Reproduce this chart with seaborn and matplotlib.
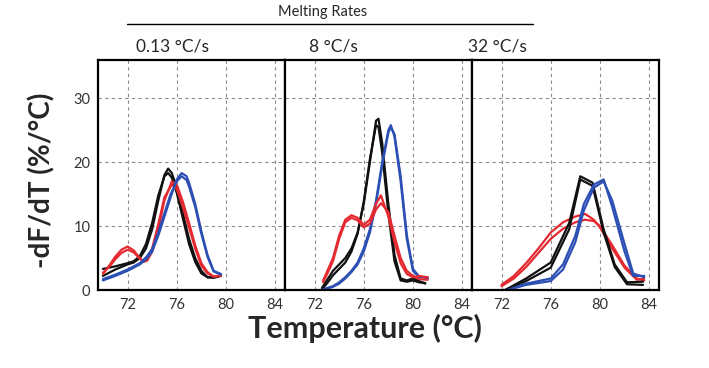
import numpy as np
import pandas as pd
import matplotlib
matplotlib.use("Agg")
import matplotlib.pyplot as plt
from matplotlib.lines import Line2D
import seaborn as sns

sns.set_style("white")
plt.rcParams['font.family'] = ['Lato', 'DejaVu Sans']

rates = ["0.13 °C/s", "8 °C/s", "32 °C/s"]
xticks = [72, 76, 80, 84]
yticks = [0, 10, 20, 30]

# panel 1 : 0.13 C/s
p1_black_x = [70.0, 71.0, 72.0, 72.5, 73.0, 73.5, 74.0, 74.5, 75.0, 75.3, 75.6, 76.0, 76.5, 77.0, 77.5, 78.0, 78.5, 79.0, 79.6]
p1_black_a = [2.2, 3.2, 4.0, 4.3, 5.0, 6.5, 9.5, 14.0, 18.0, 19.0, 18.3, 16.0, 12.0, 8.0, 5.0, 3.0, 2.0, 1.9, 2.2]
p1_black_b = [3.3, 3.7, 4.2, 4.5, 5.3, 7.2, 10.5, 14.8, 17.8, 18.3, 17.6, 15.2, 11.2, 7.2, 4.4, 2.6, 2.0, 2.0, 2.3]
p1_red_x = [70.0, 70.5, 71.0, 71.5, 72.0, 72.5, 73.0, 73.3, 73.6, 74.0, 74.5, 75.0, 75.6, 76.0, 76.5, 77.0, 77.5, 78.0, 78.5, 79.0, 79.6]
p1_red_a = [2.5, 3.8, 5.2, 6.3, 6.8, 6.2, 5.0, 4.4, 4.6, 6.0, 9.5, 14.0, 17.0, 16.5, 13.8, 10.5, 7.0, 4.2, 2.8, 2.1, 2.2]
p1_red_b = [2.7, 3.6, 4.8, 5.8, 6.3, 5.9, 4.9, 4.5, 4.8, 6.5, 10.3, 14.5, 16.5, 15.8, 13.0, 9.8, 6.5, 3.8, 2.6, 2.1, 2.3]
p1_blue_x = [70.0, 71.0, 72.0, 73.0, 73.5, 74.0, 74.5, 75.0, 75.5, 76.0, 76.4, 76.8, 77.0, 77.5, 78.0, 78.5, 79.0, 79.6]
p1_blue_a = [1.5, 2.2, 3.0, 4.0, 4.8, 6.0, 8.5, 11.5, 14.5, 17.3, 18.3, 17.8, 16.8, 13.5, 9.2, 5.5, 3.0, 2.5]
p1_blue_b = [1.7, 2.4, 3.2, 4.2, 5.1, 6.4, 9.0, 12.0, 15.0, 17.0, 17.8, 17.2, 16.2, 13.0, 8.8, 5.2, 2.9, 2.4]

# panel 2 : 8 C/s
p2_black_x = [72.6, 73.0, 73.5, 74.0, 74.5, 75.0, 75.5, 76.0, 76.5, 77.0, 77.2, 77.5, 78.0, 78.5, 79.0, 79.5, 80.0, 80.5, 81.0]
p2_black_a = [0.3, 1.5, 3.0, 4.0, 5.0, 6.5, 9.0, 13.5, 20.0, 26.5, 26.8, 23.0, 13.5, 5.5, 1.8, 1.5, 1.8, 1.4, 1.0]
p2_black_b = [0.1, 1.0, 2.3, 3.3, 4.3, 6.0, 8.8, 13.8, 20.5, 25.8, 25.5, 21.5, 12.0, 4.5, 1.5, 1.3, 1.5, 1.2, 1.1]
p2_blue_x = [72.6, 73.0, 73.5, 74.0, 74.5, 75.0, 75.5, 76.0, 76.5, 77.0, 77.5, 78.0, 78.2, 78.5, 79.0, 79.5, 80.0, 80.5, 81.2]
p2_blue_a = [0.0, 0.3, 0.6, 1.2, 2.0, 3.0, 4.3, 6.5, 9.5, 14.0, 20.0, 25.0, 25.8, 24.0, 17.0, 8.0, 3.0, 2.0, 2.0]
p2_blue_b = [0.0, 0.2, 0.5, 1.0, 1.8, 2.8, 4.0, 6.0, 9.0, 13.5, 19.5, 24.6, 25.5, 24.4, 17.8, 8.6, 3.3, 2.1, 1.8]
p2_red_x = [72.7, 73.0, 73.5, 74.0, 74.5, 75.0, 75.5, 76.0, 76.5, 77.0, 77.4, 78.0, 78.5, 79.0, 79.5, 80.0, 80.5, 81.2]
p2_red_a = [1.5, 2.8, 5.0, 8.5, 11.0, 11.7, 11.3, 10.2, 11.0, 13.5, 14.8, 11.5, 7.5, 4.2, 2.5, 2.0, 2.2, 2.0]
p2_red_b = [1.2, 2.4, 4.5, 8.0, 10.6, 11.3, 10.9, 9.8, 10.4, 12.6, 13.6, 12.2, 8.5, 5.0, 3.0, 2.2, 1.7, 1.6]

# panel 3 : 32 C/s
p3_black_x = [72.3, 74.0, 76.0, 77.5, 78.4, 79.4, 80.3, 81.2, 82.2, 83.5]
p3_black_a = [0.0, 1.8, 4.3, 10.5, 17.8, 16.8, 9.5, 4.0, 1.2, 1.3]
p3_black_b = [0.0, 1.4, 3.5, 9.5, 17.3, 16.3, 9.0, 3.6, 0.9, 0.8]
p3_blue_x = [72.5, 74.0, 76.0, 77.0, 78.0, 78.7, 79.5, 80.3, 81.0, 82.0, 82.7, 83.6]
p3_blue_a = [0.0, 1.0, 1.8, 4.0, 8.5, 13.5, 16.5, 17.3, 13.0, 6.0, 2.2, 2.2]
p3_blue_b = [0.0, 0.8, 1.4, 3.2, 7.5, 12.5, 16.0, 17.0, 14.0, 7.2, 2.6, 2.0]
p3_red_x = [72.0, 73.0, 74.0, 75.0, 76.0, 77.0, 78.0, 78.8, 79.5, 80.0, 81.0, 82.0, 83.0, 83.6]
p3_red_a = [0.8, 2.2, 4.2, 6.5, 9.0, 10.6, 11.5, 11.9, 11.0, 9.8, 6.5, 3.5, 1.6, 1.8]
p3_red_b = [0.6, 1.8, 3.6, 5.8, 8.0, 9.6, 10.6, 11.0, 10.8, 10.0, 7.0, 3.8, 1.8, 1.5]

RED = "#e42a30"
BLUE = "#2c4fb4"
BLACK = "#111111"

panels = [
    [(p1_black_x, p1_black_a, BLACK), (p1_black_x, p1_black_b, BLACK),
     (p1_red_x, p1_red_a, RED), (p1_red_x, p1_red_b, RED),
     (p1_blue_x, p1_blue_a, BLUE), (p1_blue_x, p1_blue_b, BLUE)],
    [(p2_black_x, p2_black_a, BLACK), (p2_black_x, p2_black_b, BLACK),
     (p2_blue_x, p2_blue_a, BLUE), (p2_blue_x, p2_blue_b, BLUE),
     (p2_red_x, p2_red_a, RED), (p2_red_x, p2_red_b, RED)],
    [(p3_red_x, p3_red_a, RED), (p3_red_x, p3_red_b, RED),
     (p3_black_x, p3_black_a, BLACK), (p3_black_x, p3_black_b, BLACK),
     (p3_blue_x, p3_blue_a, BLUE), (p3_blue_x, p3_blue_b, BLUE)],
]

fig = plt.figure(figsize=(7.09, 3.68), dpi=100)
left, width, bottom, height = 98 / 709, 187 / 709, 78 / 368, 230 / 368

for i, curves in enumerate(panels):
    ax = fig.add_axes([left + i * width, bottom, width, height])
    for xs, ys, col in curves:
        df = pd.DataFrame({"T": xs, "d": ys})
        sns.lineplot(data=df, x="T", y="d", color=col, lw=1.6, sort=False,
                     estimator=None, ax=ax)
    ax.set_xlim(69.6, 84.8)
    ax.set_ylim(0, 36)
    ax.set_xticks(xticks)
    ax.set_xticks([74, 78, 82], minor=True)
    ax.set_yticks(yticks[1:] if i else yticks)
    ax.set_yticks([5, 15, 25, 35], minor=True)
    ax.grid(True, which="major", ls=(0, (3, 3)), color="#8c8c8c", lw=0.8)
    ax.tick_params(which="both", length=2.5, width=0.8, color="#999999",
                   labelsize=10.5, labelcolor="#333333", pad=3)
    if i:
        ax.tick_params(axis="y", labelleft=False)
    for s in ax.spines.values():
        s.set_color("black")
        s.set_linewidth(1.6)
    ax.set_xlabel("")
    ax.set_ylabel("")

# panel headings sit a little left of the panel centres, as in the source
for r, xc in zip(rates, [173, 333, 497]):
    fig.text(xc / 709, 1 - 47 / 368, r, ha="center", va="center", fontsize=12.5)

fig.text(323 / 709, 1 - 12 / 368, "Melting Rates", ha="center", va="center", fontsize=10.5)
fig.add_artist(Line2D([127 / 709, 533 / 709], [1 - 24 / 368, 1 - 24 / 368], color="black", lw=1.0))
fig.text(42 / 709, 1 - 180 / 368, "-dF/dT (%/°C)", rotation=90, ha="center", va="center",
         fontsize=20, fontweight="bold")
fig.text(365 / 709, 1 - 328 / 368, "Temperature (°C)", ha="center", va="center",
         fontsize=22, fontweight="bold")

fig.savefig("out.png", dpi=100)
